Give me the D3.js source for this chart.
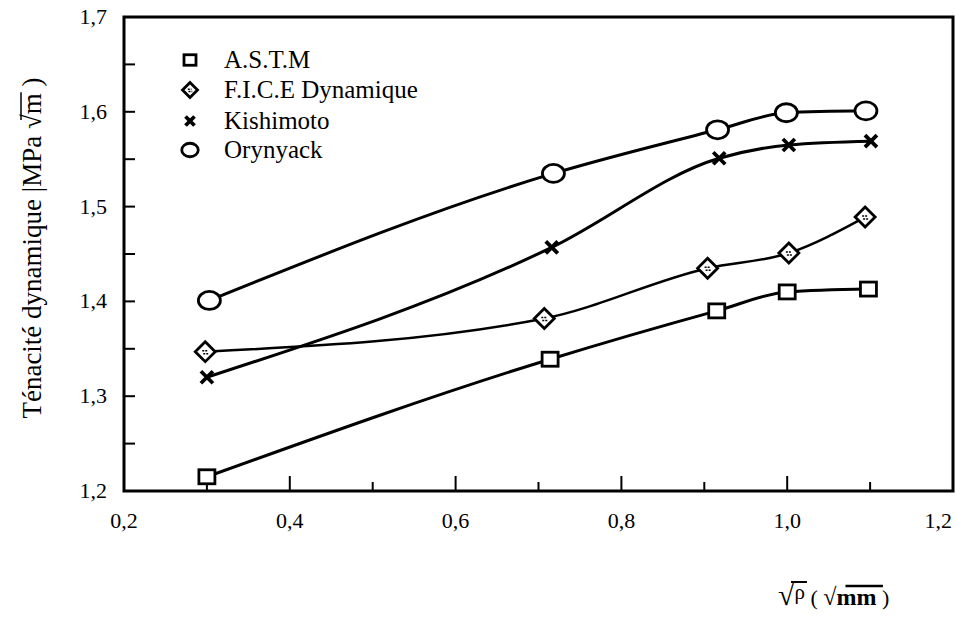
<!DOCTYPE html>
<html><head><meta charset="utf-8">
<script src="https://cdn.jsdelivr.net/npm/d3@7"></script>
<style>
body{margin:0;background:#fff}
text{font-family:"Liberation Serif","Times New Roman",serif;fill:#000}
</style>
</head><body>
<svg id="c" width="956" height="617" font-family="Liberation Serif, Times New Roman, serif"></svg>
<script>
const seriesNames = ["A.S.T.M", "F.I.C.E Dynamique", "Kishimoto", "Orynyack"];
const astmX = [0.300, 0.714, 0.915, 1.000, 1.098];
const astmY = [1.215, 1.339, 1.390, 1.410, 1.413];
const ficeX = [0.298, 0.707, 0.904, 1.002, 1.094];
const ficeY = [1.347, 1.382, 1.435, 1.451, 1.489];
const kishX = [0.300, 0.716, 0.918, 1.002, 1.101];
const kishY = [1.320, 1.457, 1.551, 1.565, 1.569];
const oryX = [0.303, 0.718, 0.916, 0.999, 1.095];
const oryY = [1.401, 1.535, 1.581, 1.599, 1.601];
const xTickLabels = [0.2, 0.4, 0.6, 0.8, 1.0, 1.2];
const yTickLabels = [1.2, 1.3, 1.4, 1.5, 1.6, 1.7];
const markerTypes = ["square", "diamond", "cross", "circle"];

const svg = d3.select("#c");
const L = 124, T = 17, R = 953, B = 491;
const x = d3.scaleLinear().domain([0.2, 1.2]).range([L, R]);
const y = d3.scaleLinear().domain([1.2, 1.7]).range([B, T]);
const fmt = v => d3.format(".1f")(v).replace(".", ",");

// frame
svg.append("rect").attr("x", L).attr("y", T).attr("width", R - L).attr("height", B - T)
  .attr("fill", "none").attr("stroke", "#000").attr("stroke-width", 3);

// x ticks (inside, pointing up)
const xMinor = d3.range(0.3, 1.2, 0.2);
svg.append("g").selectAll("line").data(xTickLabels.slice(1, -1)).join("line")
  .attr("x1", d => x(d)).attr("x2", d => x(d)).attr("y1", B).attr("y2", B - 15)
  .attr("stroke", "#000").attr("stroke-width", 2);
svg.append("g").selectAll("line").data(xMinor).join("line")
  .attr("x1", d => x(d)).attr("x2", d => x(d)).attr("y1", B).attr("y2", B - 9)
  .attr("stroke", "#000").attr("stroke-width", 2);
svg.append("g").selectAll("text").data(xTickLabels).join("text")
  .attr("x", (d, i) => i === xTickLabels.length - 1 ? x(d) - 1 : x(d))
  .attr("y", B + 37)
  .attr("text-anchor", (d, i) => i === xTickLabels.length - 1 ? "end" : "middle")
  .attr("font-size", 22).text(fmt);

// y ticks (inside, pointing right)
const yAll = d3.range(1.25, 1.7, 0.05);
svg.append("g").selectAll("line").data(yAll).join("line")
  .attr("x1", L).attr("x2", L + 11).attr("y1", d => y(d)).attr("y2", d => y(d))
  .attr("stroke", "#000").attr("stroke-width", 2);
svg.append("g").selectAll("text").data(yTickLabels).join("text")
  .attr("x", 107).attr("y", d => y(d) + 7).attr("text-anchor", "end")
  .attr("font-size", 22).text(fmt);

// y label
const ylT = "translate(41,248) rotate(-90)";
const yl = svg.append("text").attr("transform", ylT)
  .attr("text-anchor", "middle").attr("font-size", 27);
yl.append("tspan").text("Ténacité dynamique |MPa ");
yl.append("tspan").text("√");
yl.append("tspan").text("m");
yl.append("tspan").text(" )");
{
  const node = yl.node();
  const full = node.textContent;
  const i = full.indexOf("√");
  const s = node.getStartPositionOfChar(i);
  const e = node.getEndPositionOfChar(i + 1);
  svg.append("line").attr("transform", ylT)
    .attr("x1", s.x + 9).attr("x2", e.x + 1).attr("y1", -20).attr("y2", -20)
    .attr("stroke", "#000").attr("stroke-width", 1.5);
}

// x label
const xl = svg.append("text").attr("x", 778).attr("y", 605).attr("font-size", 24);
xl.append("tspan").attr("font-weight", "bold").attr("font-size", 30).text("√");
xl.append("tspan").attr("font-size", 21).attr("dy", -6).text("ρ");
xl.append("tspan").attr("font-size", 22).attr("dy", 6).text("  ( ");
xl.append("tspan").attr("font-weight", "bold").text("√");
xl.append("tspan").attr("font-weight", "bold").text("mm");
xl.append("tspan").attr("font-size", 22).text(" )");
{
  const node = xl.node();
  const full = node.textContent;
  const i1 = full.indexOf("ρ");
  const s1 = node.getStartPositionOfChar(i1 - 1), e1 = node.getEndPositionOfChar(i1);
  svg.append("line").attr("x1", s1.x + 13).attr("x2", e1.x + 2).attr("y1", 582).attr("y2", 582)
    .attr("stroke", "#000").attr("stroke-width", 2);
  const i2 = full.indexOf("mm");
  const s2 = node.getStartPositionOfChar(i2 - 1), e2 = node.getEndPositionOfChar(i2 + 1);
  svg.append("line").attr("x1", s2.x + 9).attr("x2", e2.x + 1).attr("y1", 586).attr("y2", 586)
    .attr("stroke", "#000").attr("stroke-width", 2.5);
}

// series
const series = [
  {name: seriesNames[0], xs: astmX, ys: astmY, m: markerTypes[0]},
  {name: seriesNames[1], xs: ficeX, ys: ficeY, m: markerTypes[1]},
  {name: seriesNames[2], xs: kishX, ys: kishY, m: markerTypes[2]},
  {name: seriesNames[3], xs: oryX, ys: oryY, m: markerTypes[3]}
];
const line = d3.line().x(d => x(d[0])).y(d => y(d[1])).curve(d3.curveMonotoneX);

function drawMarker(g, type, s) {
  if (type === "square") {
    g.append("rect").attr("x", -8 * s).attr("y", -7 * s).attr("width", 16 * s).attr("height", 14 * s)
      .attr("fill", "#fff").attr("stroke", "#000").attr("stroke-width", 2.8);
  } else if (type === "diamond") {
    const r = 10 * s;
    g.append("path").attr("d", `M0,${-r}L${r},0L0,${r}L${-r},0Z`)
      .attr("fill", "#fff").attr("stroke", "#000").attr("stroke-width", 2.8);
    g.append("path").attr("d", `M${-3*s},${-1*s}L${2*s},${-1*s}M${-2*s},${2*s}L${3*s},${2*s}`)
      .attr("stroke", "#000").attr("stroke-width", 1.5).attr("stroke-dasharray", "2,1");
  } else if (type === "cross") {
    const r = 6 * s;
    g.append("path").attr("d", `M${-r},${-r}L${r},${r}M${-r},${r}L${r},${-r}`)
      .attr("stroke", "#000").attr("stroke-width", 3.8);
  } else {
    g.append("ellipse").attr("rx", 11 * s).attr("ry", 9 * s)
      .attr("fill", "#fff").attr("stroke", "#000").attr("stroke-width", 2.8);
  }
}

series.forEach(sr => {
  const pts = sr.xs.map((v, i) => [v, sr.ys[i]]);
  svg.append("path").datum(pts).attr("d", line).attr("fill", "none")
    .attr("stroke", "#000").attr("stroke-width", (sr.m === "diamond") ? 2.5 : 3);
});
series.forEach(sr => {
  sr.xs.forEach((v, i) => {
    const g = svg.append("g").attr("transform", `translate(${x(v)},${y(sr.ys[i])})`);
    drawMarker(g, sr.m, 1);
  });
});

// legend
const legY = [60, 90, 121, 150];
series.forEach((sr, i) => {
  const g = svg.append("g").attr("transform", `translate(190,${legY[i]})`);
  drawMarker(g, sr.m, 0.75);
  svg.append("text").attr("x", 224).attr("y", legY[i] + 8).attr("font-size", 25).text(sr.name);
});
</script>
</body></html>
